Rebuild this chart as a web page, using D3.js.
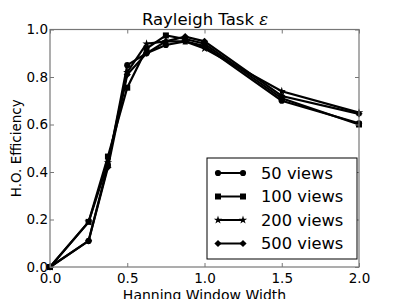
<!DOCTYPE html>
<html><head><meta charset="utf-8">
<script src="https://cdn.jsdelivr.net/npm/d3@7"></script>
<style>body{margin:0;background:#fff}svg{display:block}text{font-family:"DejaVu Sans",sans-serif;fill:#000}</style>
</head><body><svg id="c" width="399" height="299"></svg>
<script>
const xs = [0, 0.25, 0.375, 0.5, 0.625, 0.75, 0.875, 1.0, 1.5, 2.0];
const seriesNames = ["50 views", "100 views", "200 views", "500 views"];
const v50  = [0, 0.11, 0.43, 0.85, 0.90, 0.935, 0.95, 0.93, 0.70, 0.605];
const v100 = [0, 0.19, 0.465, 0.755, 0.92, 0.975, 0.96, 0.94, 0.71, 0.60];
const v200 = [0, 0.19, 0.44, 0.82, 0.94, 0.95, 0.95, 0.92, 0.74, 0.65];
const v500 = [0, 0.11, 0.42, 0.81, 0.90, 0.95, 0.97, 0.95, 0.72, 0.645];
const xTicks = [0, 0.5, 1.0, 1.5, 2.0];
const yTicks = [0, 0.2, 0.4, 0.6, 0.8, 1.0];
const markers = ["circle", "square", "star", "diamond"];

const svg = d3.select("#c");
const L = 50, R = 359, T = 29.5, B = 267;
const x = d3.scaleLinear().domain([0, 2]).range([L, R]);
const y = d3.scaleLinear().domain([0, 1]).range([B, T]);

const allSeries = [v50, v100, v200, v500];

function markerPath(type) {
  if (type === "circle") return d3.symbol(d3.symbolCircle, 30)();
  if (type === "square") return d3.symbol(d3.symbolSquare, 36)();
  if (type === "star") return d3.symbol(d3.symbolStar, 22)();
  return d3.symbol(d3.symbolSquare, 26)();
}
function markerRot(type) { return type === "diamond" ? 45 : 0; }

// plot
const line = d3.line().x((d, i) => x(xs[i])).y(d => y(d));
const g = svg.append("g");
allSeries.forEach((s, k) => {
  g.append("path").attr("d", line(s)).attr("fill", "none").attr("stroke", "#000").attr("stroke-width", 2.2);
  g.selectAll(null).data(s).enter().append("path")
    .attr("d", markerPath(markers[k]))
    .attr("transform", (d, i) => `translate(${x(xs[i])},${y(d)}) rotate(${markerRot(markers[k])})`)
    .attr("fill", "#000");
});

// frame
svg.append("rect").attr("x", L).attr("y", T).attr("width", R - L).attr("height", B - T)
  .attr("fill", "none").attr("stroke", "#777").attr("stroke-width", 1.2);

// axes
const xa = svg.append("g").attr("transform", `translate(0,${B})`)
  .call(d3.axisBottom(x).tickValues(xTicks).tickFormat(d3.format(".1f")).tickSizeInner(-4).tickSizeOuter(0).tickPadding(6.5));
const xt = svg.append("g").attr("transform", `translate(0,${T})`)
  .call(d3.axisTop(x).tickValues(xTicks).tickFormat("").tickSizeInner(-4).tickSizeOuter(0));
const ya = svg.append("g").attr("transform", `translate(${L},0)`)
  .call(d3.axisLeft(y).tickValues(yTicks).tickFormat(d3.format(".1f")).tickSizeInner(-4).tickSizeOuter(0).tickPadding(2));
const yr = svg.append("g").attr("transform", `translate(${R},0)`)
  .call(d3.axisRight(y).tickValues(yTicks).tickFormat("").tickSizeInner(-4).tickSizeOuter(0));
[xa, xt, ya, yr].forEach(a => {
  a.select(".domain").remove();
  a.selectAll("line").attr("stroke", "#777");
  a.selectAll("text").style("font-family", "DejaVu Sans").style("font-size", "13.5px").attr("fill", "#000");
});

// title
const title = svg.append("text").attr("x", 205).attr("y", 25).attr("text-anchor", "middle").style("font-size", "16.5px");
title.append("tspan").text("Rayleigh Task ");
title.append("tspan").text("ε").style("font-style", "italic").style("font-family", "DejaVu Serif");

// axis labels
svg.append("text").attr("x", (L + R) / 2).attr("y", 300).attr("text-anchor", "middle").style("font-size", "14px").text("Hanning Window Width");
svg.append("text").attr("transform", `translate(16,${(T + B) / 2}) rotate(-90)`).attr("dy", "0.36em").attr("text-anchor", "middle").style("font-size", "13.5px").text("H.O. Efficiency");

// legend
const lg = svg.append("g");
lg.append("rect").attr("x", 207).attr("y", 158).attr("width", 150).attr("height", 101)
  .attr("fill", "#fff").attr("stroke", "#000").attr("stroke-width", 1);
seriesNames.forEach((n, k) => {
  const yy = 173 + k * 23.5;
  lg.append("line").attr("x1", 218).attr("x2", 243).attr("y1", yy).attr("y2", yy).attr("stroke", "#000").attr("stroke-width", 2);
  [218, 243].forEach(px => lg.append("path").attr("d", markerPath(markers[k]))
    .attr("transform", `translate(${px},${yy}) rotate(${markerRot(markers[k])})`).attr("fill", "#000"));
  lg.append("text").attr("x", 261).attr("y", yy).attr("dy", "0.36em").style("font-size", "16.3px").text(n);
});
</script></body></html>
